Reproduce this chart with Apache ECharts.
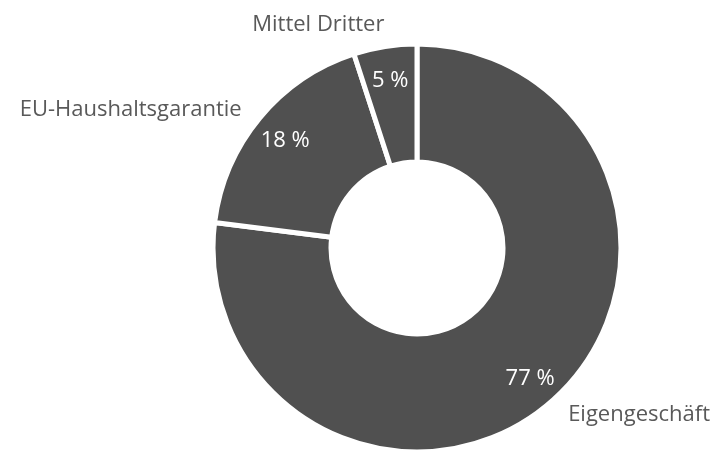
<!DOCTYPE html>
<html>
<head>
<meta charset="utf-8">
<script src="https://cdn.jsdelivr.net/npm/echarts@6/dist/echarts.min.js"></script>
<style>
  html, body { margin: 0; padding: 0; background: #fff; }
  #chart { width: 714px; height: 452px; }
</style>
</head>
<body>
<div id="chart"></div>
<script>
const categories = ['Eigengeschäft', 'EU-Haushaltsgarantie', 'Mittel Dritter']
const shares = [77, 18, 5]

const sliceColor = '#505050'
const textColor = '#595959'
const font = 'Open Sans'

const pieData = categories.map((name, i) => ({ name: name, value: shares[i] }))

// small nudges for the outside name labels, per slice
const nameShift = [[0, 1], [0, 3], [7, -5]]

let myChart = echarts.init(document.getElementById('chart'))
let option = {
  animation: false,
  series: [
    {
      type: 'pie',
      center: [417, 248],
      radius: [86, 204],
      startAngle: 90,
      clockwise: true,
      avoidLabelOverlap: false,
      silent: true,
      data: pieData,
      itemStyle: {
        color: sliceColor,
        borderColor: '#fff',
        borderWidth: 5
      },
      label: {
        show: true,
        position: 'outside',
        formatter: '{b}',
        color: textColor,
        fontFamily: font,
        fontSize: 22
      },
      labelLine: {
        show: false,
        length: 17,
        length2: 0
      },
      labelLayout: function (params) {
        let s = nameShift[params.dataIndex]
        return { dx: s[0], dy: s[1] }
      }
    },
    {
      type: 'pie',
      center: [417, 250],
      radius: [130, 206],
      startAngle: 90,
      clockwise: true,
      silent: true,
      data: pieData,
      itemStyle: {
        color: 'rgba(0,0,0,0)',
        borderWidth: 0
      },
      label: {
        show: true,
        position: 'inside',
        formatter: '{c} %',
        color: '#fff',
        fontFamily: font,
        fontSize: 22
      },
      labelLine: { show: false }
    }
  ]
}
myChart.setOption(option)
window.addEventListener('resize', function () {
  myChart.resize()
})
</script>
</body>
</html>
